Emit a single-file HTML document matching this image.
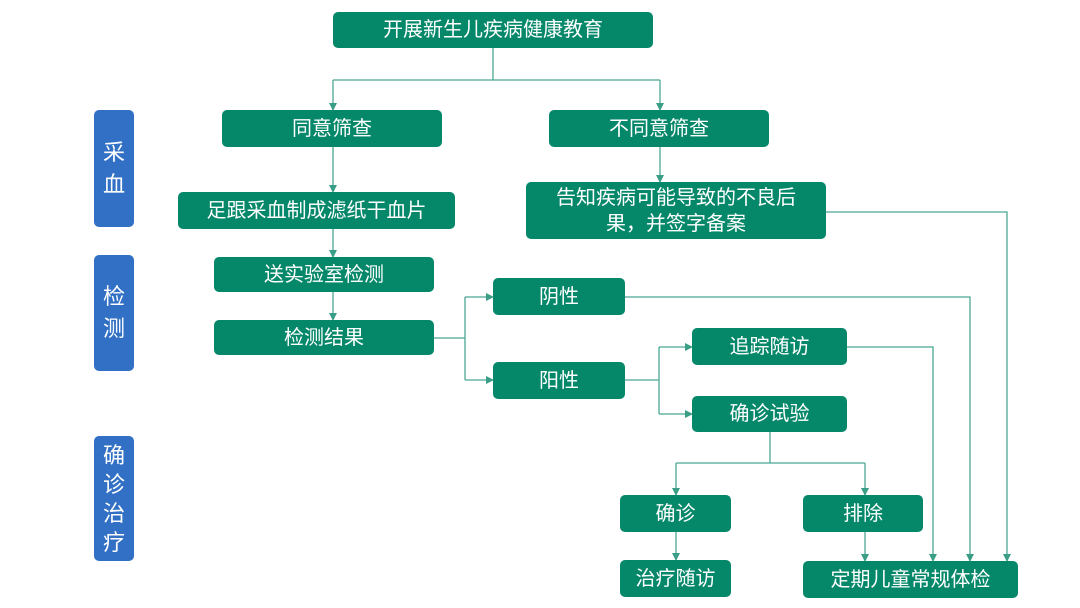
<!DOCTYPE html>
<html><head><meta charset="utf-8"><style>
body{margin:0;width:1080px;height:608px;background:#fff;position:relative;overflow:hidden;font-family:"Liberation Sans","Noto Sans CJK SC",sans-serif}
.b{position:absolute;background:#05876A;color:#fff;border-radius:5px;display:flex;align-items:center;justify-content:center;text-align:center;font-size:20px;line-height:26px}
.s{position:absolute;background:#3170C4;color:#fff;border-radius:5px;width:40px;left:94px;display:flex;align-items:center;justify-content:center;font-size:22px;line-height:32px;text-align:center}
svg{position:absolute;left:0;top:0}
</style></head><body>
<svg width="1080" height="608">
<defs><marker id="a" markerWidth="8" markerHeight="8" refX="7" refY="4" orient="auto" markerUnits="userSpaceOnUse"><path d="M0,0L8,4L0,8z" fill="#3a9e86"/></marker></defs>
<g stroke="#4aa893" stroke-width="1.3" fill="none">
<path d="M493 48V80"/><path d="M333 80H660"/>
<path d="M333 80V110" marker-end="url(#a)"/><path d="M660 80V110" marker-end="url(#a)"/>
<path d="M660 147V182" marker-end="url(#a)"/>
<path d="M333 147V192" marker-end="url(#a)"/>
<path d="M333 229V257" marker-end="url(#a)"/>
<path d="M333 292V320" marker-end="url(#a)"/>
<path d="M434 338H465"/><path d="M465 297V380"/>
<path d="M465 297H493" marker-end="url(#a)"/><path d="M465 380H493" marker-end="url(#a)"/>
<path d="M625 297H970V561" marker-end="url(#a)"/>
<path d="M625 380H659"/><path d="M659 347V414"/>
<path d="M659 347H692" marker-end="url(#a)"/><path d="M659 414H692" marker-end="url(#a)"/>
<path d="M847 347H933V561" marker-end="url(#a)"/>
<path d="M826 212H1007V561" marker-end="url(#a)"/>
<path d="M770 432V463"/><path d="M676 463H865"/>
<path d="M676 463V495" marker-end="url(#a)"/><path d="M865 463V495" marker-end="url(#a)"/>
<path d="M676 532V560" marker-end="url(#a)"/><path d="M865 532V561" marker-end="url(#a)"/>
</g></svg>
<div class="b" style="left:333px;top:12px;width:320px;height:36px">开展新生儿疾病健康教育</div>
<div class="b" style="left:222px;top:110px;width:220px;height:37px">同意筛查</div>
<div class="b" style="left:549px;top:110px;width:220px;height:37px">不同意筛查</div>
<div class="b" style="left:178px;top:192px;width:277px;height:37px">足跟采血制成滤纸干血片</div>
<div class="b" style="left:526px;top:182px;width:300px;height:57px">告知疾病可能导致的不良后<br>果，并签字备案</div>
<div class="b" style="left:214px;top:257px;width:220px;height:35px">送实验室检测</div>
<div class="b" style="left:214px;top:320px;width:220px;height:35px">检测结果</div>
<div class="b" style="left:493px;top:278px;width:132px;height:37px">阴性</div>
<div class="b" style="left:493px;top:362px;width:132px;height:37px">阳性</div>
<div class="b" style="left:692px;top:328px;width:155px;height:37px">追踪随访</div>
<div class="b" style="left:692px;top:396px;width:155px;height:36px">确诊试验</div>
<div class="b" style="left:620px;top:495px;width:111px;height:37px">确诊</div>
<div class="b" style="left:803px;top:495px;width:120px;height:37px">排除</div>
<div class="b" style="left:620px;top:560px;width:111px;height:37px">治疗随访</div>
<div class="b" style="left:803px;top:561px;width:215px;height:37px">定期儿童常规体检</div>
<div class="s" style="top:110px;height:117px">采<br>血</div>
<div class="s" style="top:255px;height:116px">检<br>测</div>
<div class="s" style="top:436px;height:125px;line-height:29px">确<br>诊<br>治<br>疗</div>
</body></html>
